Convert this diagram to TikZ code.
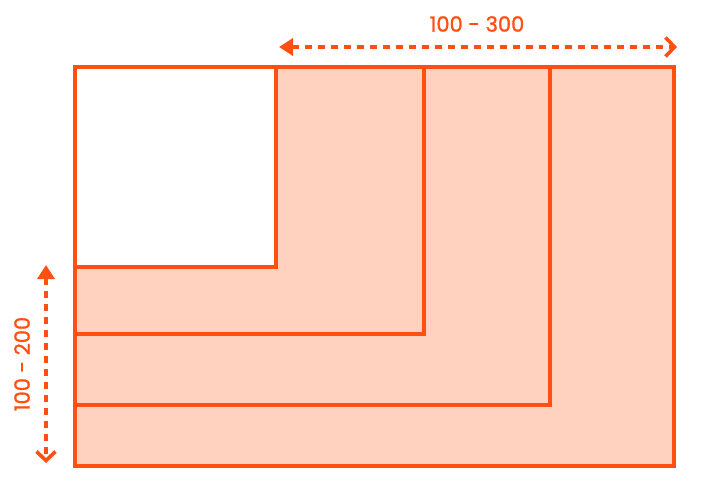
\documentclass[tikz,border=0pt]{standalone}
\usepackage{fontspec}
\setmainfont{Poppins}
\newfontfamily\labelfont{Poppins}[FakeBold=1.2]
\usetikzlibrary{arrows.meta}
\definecolor{edgeorange}{HTML}{FF5012}
\definecolor{areafill}{HTML}{FFD1BE}
\tikzset{
	box/.style={draw=edgeorange, line width=3.6pt},
	span/.style={draw=edgeorange, line width=3.6pt, dash pattern=on 7pt off 6pt,
		arrows={Triangle[length=14pt,width=17pt]-Straight Barb[length=9pt,width=19pt,line width=3.6pt]}},
	spanlabel/.style={text=edgeorange, font=\labelfont\fontsize{21}{25}\selectfont, inner sep=0pt}
}
\begin{document}
\begin{tikzpicture}[x=1pt,y=-1pt]
		\useasboundingbox (0,0) rectangle (712,496);

		% Shaded area and the untouched corner
		\fill[areafill] (75,67) rectangle (674,466);
		\fill[white] (75,67) rectangle (276,267);

		% Nested regions
		\draw[box] (75,267) -- (276,267) -- (276,67);
		\draw[box] (75,334) -- (424,334) -- (424,67);
		\draw[box] (75,405) -- (550,405) -- (550,67);
		\draw[box] (75,67) rectangle (674,466);

		% Size ranges
		\coordinate (wleft) at (279,47);
		\coordinate (wright) at (677,47);
		\coordinate (htop) at (46,265);
		\coordinate (hbottom) at (46,463);
		\draw[span] (wleft) -- (wright);
		\draw[span] (htop) -- (hbottom);

		% Labels
		\node[spanlabel] (wlabel) at (477,24) {100 - 300};
		\node[spanlabel, rotate=90] (hlabel) at (22,364) {100 - 200};
	\end{tikzpicture}
\end{document}
